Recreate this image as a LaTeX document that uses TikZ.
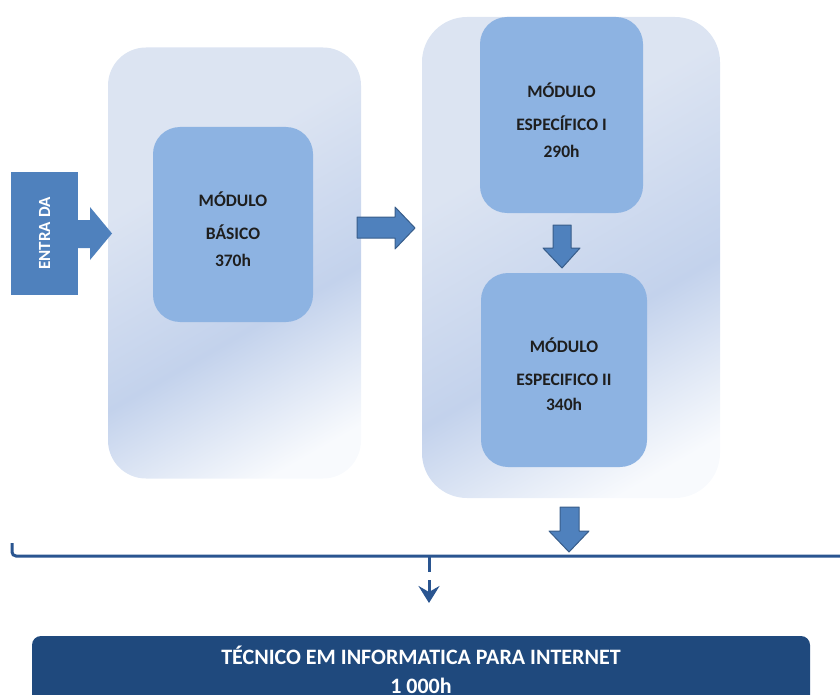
\documentclass[tikz,border=0pt]{standalone}
\usepackage{fontspec}
\setmainfont{Carlito}
\usetikzlibrary{arrows.meta}
\definecolor{accent}{HTML}{4F81BD}
\definecolor{accentdark}{HTML}{385D8A}
\definecolor{innerblue}{HTML}{8DB3E2}
\definecolor{navy}{HTML}{1F497D}
\definecolor{linecol}{HTML}{2A5590}
\definecolor{ctop}{HTML}{DCE4F2}
\definecolor{cmid}{HTML}{C3D2EC}
\definecolor{cwhite}{HTML}{F8FAFD}
\definecolor{textdark}{HTML}{1E1E1E}
\pgfdeclareverticalshading{contshade}{100bp}{color(0bp)=(cwhite); color(22bp)=(cwhite); color(41bp)=(cmid); color(64bp)=(ctop); color(100bp)=(ctop)}
\begin{document}
\begin{tikzpicture}[x=1pt,y=-1pt,
  container/.style={shading=contshade, shading angle=30, inner sep=0pt, draw=none},
  modbox/.style={fill=innerblue, rounded corners=27pt, inner sep=0pt, draw=none},
  modtext/.style={text=textdark, align=center, font=\bfseries\fontsize{17.5}{21}\selectfont},
  blockarrow/.style={fill=accent, draw=accentdark, line width=1pt, line join=round},
  finalbox/.style={fill=navy, rounded corners=9pt, inner sep=0pt, draw=none},
  bracket/.style={draw=linecol, line width=3pt},
]
\useasboundingbox (0,0) rectangle (840,695);
\clip (0,0) rectangle (840,695);

% containers
\node[container, rounded corners=38pt, minimum width=253pt, minimum height=431pt] (contA) at (234.5,263) {};
\node[container, rounded corners=45pt, minimum width=298pt, minimum height=481pt] (contB) at (571,257.5) {};

% module boxes
\node[modbox, minimum width=160pt, minimum height=195pt] (basico) at (233,224.5) {};
\node[modbox, minimum width=163pt, minimum height=196pt] (espI) at (561.5,115) {};
\node[modbox, minimum width=166pt, minimum height=194pt] (espII) at (564,370) {};

\node[modtext] (tbasico) at ([yshift=-5pt]basico.center) {MÓDULO\\[12pt]BÁSICO\\[6pt]370h};
\node[modtext] (tespI) at ([yshift=-5pt]espI.center) {MÓDULO\\[12pt]ESPECÍFICO I\\[6pt]290h};
\node[modtext] (tespII) at ([yshift=-4pt]espII.center) {MÓDULO\\[12pt]ESPECIFICO II\\[4pt]340h};

% entrada
\node[fill=accent, inner sep=0pt, minimum width=67pt, minimum height=123pt] (entrada) at (44.5,233.5) {};
\node[rotate=90, text=white, font=\bfseries\fontsize{17}{20}\selectfont] (tentrada) at (entrada.center) {ENTRA DA};
\fill[accent] (entrada.east |- 0,220) -- (90,220) -- (90,207) -- (112,233.5) -- (90,260) -- (90,248) -- (entrada.east |- 0,248) -- cycle;

% block arrows
\draw[blockarrow] (357,217) -- (395,217) -- (395,207) -- (415,228) -- (395,249) -- (395,238) -- (357,238) -- cycle;
\draw[blockarrow] (553,225) -- (571,225) -- (571,248) -- (580,248) -- (562,268) -- (543,248) -- (553,248) -- cycle;
\draw[blockarrow] (560,507) -- (579,507) -- (579,531) -- (589,531) -- (569,552) -- (549,531) -- (560,531) -- cycle;

% final box
\node[finalbox, minimum width=778pt, minimum height=74pt] (final) at (421,673) {};
\node[text=white, align=center, font=\bfseries\fontsize{22}{26}\selectfont] (tfinal) at (421,670) {TÉCNICO EM INFORMATICA PARA INTERNET\\[3pt]1 000h};

% bracket
\coordinate (brL) at (12,543);
\coordinate (brC) at (429,556);
\coordinate (brR) at (842,556);
\coordinate (tipT) at (429,603);
\draw[bracket, rounded corners=4pt] (brL) -- (brL |- brC) -- (brR);
\draw[draw=linecol, line width=3pt, dash pattern=on 16pt off 8pt on 40pt,
  -{Stealth[length=17pt, width=21pt, inset=6pt]}] (brC) -- (tipT);
\end{tikzpicture}
\end{document}
